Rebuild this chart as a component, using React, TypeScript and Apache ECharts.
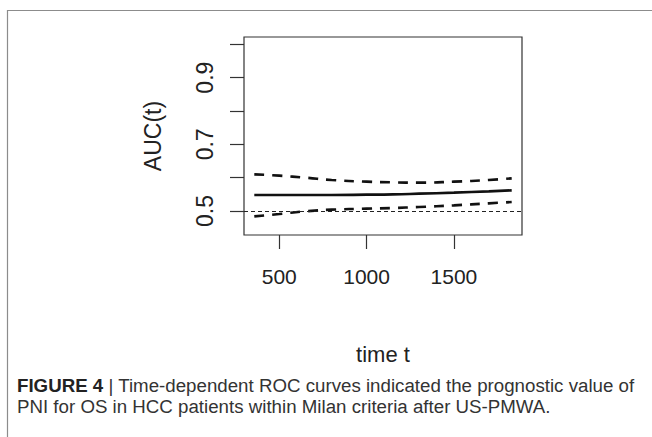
import React, { useEffect, useRef } from "react";
import * as echarts from "echarts";

const timePoints = [357, 500, 650, 800, 1000, 1150, 1300, 1500, 1700, 1831];
const aucEstimate = [0.548, 0.548, 0.548, 0.548, 0.549, 0.55, 0.552, 0.555, 0.559, 0.562];
const aucUpper = [0.61, 0.606, 0.6, 0.593, 0.588, 0.586, 0.585, 0.588, 0.593, 0.598];
const aucLower = [0.484, 0.491, 0.499, 0.504, 0.507, 0.509, 0.512, 0.517, 0.523, 0.527];
const xTicks = [500, 1000, 1500];
const yTicks = [0.5, 0.6, 0.7, 0.8, 0.9, 1.0];
const yTickLabels = [0.5, 0.7, 0.9];
const referenceAuc = 0.5;

const captionLine1 = "{b|FIGURE 4} | Time-dependent ROC curves indicated the prognostic value of";
const captionLine2 = "PNI for OS in HCC patients within Milan criteria after US-PMWA.";

const FONT = "'Liberation Sans', Arial, Helvetica, sans-serif";

export default function App() {
  const ref = useRef<HTMLDivElement>(null);
  useEffect(() => {
    if (!ref.current) return;
    const chart = echarts.init(ref.current, null, { renderer: "svg" });
    const pairs = (ys: number[]) => timePoints.map((t, i) => [t, ys[i]]);
    chart.setOption({
      animation: false,
      backgroundColor: "#ffffff",
      grid: {
        left: 244,
        top: 37,
        right: 130,
        bottom: 202,
        show: true,
        borderColor: "#333",
        borderWidth: 1.2,
        backgroundColor: "transparent",
      },
      xAxis: {
        type: "value",
        min: 298,
        max: 1890,
        name: "time t",
        nameLocation: "middle",
        nameGap: 108,
        nameTextStyle: { fontFamily: FONT, fontSize: 22, color: "#222" },
        axisLine: { show: false },
        splitLine: { show: false },
        axisTick: {
          show: true,
          inside: false,
          length: 14,
          customValues: xTicks,
          lineStyle: { color: "#333", width: 1.2 },
        },
        axisLabel: {
          customValues: xTicks,
          margin: 31,
          fontFamily: FONT,
          fontSize: 21,
          color: "#222",
          formatter: (v: number) => String(v),
        },
      },
      yAxis: {
        type: "value",
        min: 0.428,
        max: 1.022,
        name: "AUC(t)",
        nameLocation: "middle",
        nameRotate: 90,
        nameGap: 80,
        nameTextStyle: { fontFamily: FONT, fontSize: 23, color: "#222" },
        axisLine: { show: false },
        splitLine: { show: false },
        axisTick: {
          show: true,
          inside: false,
          length: 14,
          customValues: yTicks,
          lineStyle: { color: "#333", width: 1.2 },
        },
        axisLabel: {
          customValues: yTickLabels,
          rotate: 90,
          margin: 28,
          fontFamily: FONT,
          fontSize: 23,
          color: "#222",
          formatter: (v: number) => v.toFixed(1),
        },
      },
      series: [
        {
          type: "line",
          data: pairs(aucEstimate),
          showSymbol: false,
          smooth: true,
          lineStyle: { color: "#111", width: 2.6 },
          markLine: {
            silent: true,
            symbol: "none",
            label: { show: false },
            lineStyle: { color: "#222", width: 1, type: [4, 3] },
            data: [{ yAxis: referenceAuc }],
          },
        },
        {
          type: "line",
          data: pairs(aucUpper),
          showSymbol: false,
          smooth: true,
          lineStyle: { color: "#111", width: 2.6, type: [10, 8] },
        },
        {
          type: "line",
          data: pairs(aucLower),
          showSymbol: false,
          smooth: true,
          lineStyle: { color: "#111", width: 2.6, type: [10, 8] },
        },
      ],
      graphic: [
        {
          type: "rect",
          silent: true,
          shape: { x: 7.5, y: 10.5, width: 700, height: 500 },
          style: { fill: "none", stroke: "#8c8c8c", lineWidth: 1.2 },
        },
        {
          type: "text",
          x: 17,
          y: 376,
          scaleX: 0.985,
          style: {
            text: captionLine1,
            fontFamily: FONT,
            fontSize: 19,
            fill: "#333",
            rich: {
              b: { fontFamily: FONT, fontSize: 19, fontWeight: "bold", fill: "#222" },
            },
          },
        },
        {
          type: "text",
          x: 17,
          y: 397,
          scaleX: 0.985,
          style: {
            text: captionLine2,
            fontFamily: FONT,
            fontSize: 19,
            fill: "#333",
          },
        },
      ],
    });
    return () => chart.dispose();
  }, []);
  return (
    <div
      ref={ref}
      style={{ position: "fixed", left: 0, top: 0, width: 652, height: 437 }}
    />
  );
}
